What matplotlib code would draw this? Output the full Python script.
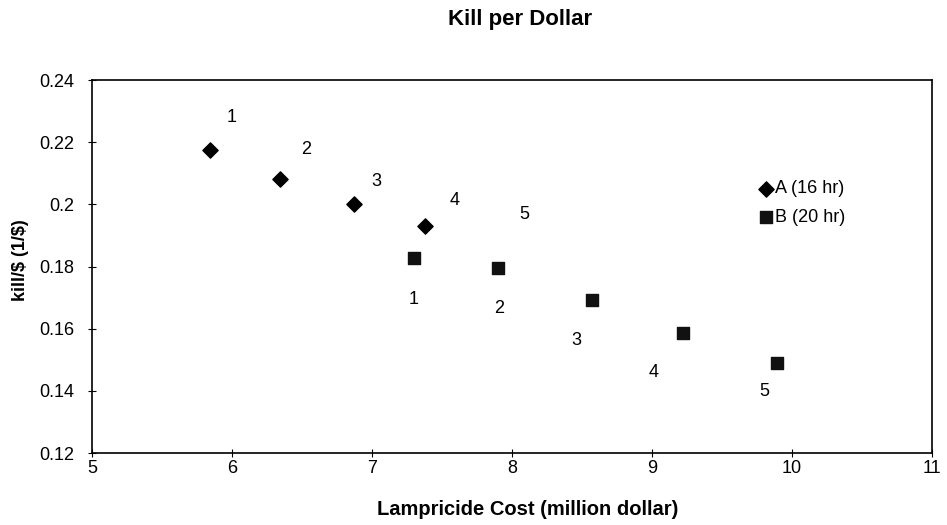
import matplotlib
matplotlib.use('Agg')
import matplotlib.pyplot as plt

plt.rcParams['font.family'] = ['Liberation Sans', 'DejaVu Sans']

# series A (16 hr)
a_cost = [5.84, 6.34, 6.87, 7.38]
a_kill = [0.2175, 0.208, 0.2, 0.193]
a_labels = ['1', '2', '3', '4', '5']
a_label_x = [6.0, 6.53, 7.03, 7.59, 8.09]
a_label_y = [0.228, 0.2175, 0.2073, 0.2012, 0.1968]

# series B (20 hr)
b_cost = [7.3, 7.9, 8.57, 9.22, 9.89]
b_kill = [0.1828, 0.1795, 0.1692, 0.1585, 0.1488]
b_labels = ['1', '2', '3', '4', '5']
b_label_x = [7.3, 7.91, 8.46, 9.01, 9.80]
b_label_y = [0.1694, 0.1665, 0.1563, 0.1458, 0.1397]

fig = plt.figure(figsize=(9.47, 5.25), dpi=100)
ax = fig.add_axes([0.0971, 0.1371, 0.8871, 0.7105])

ax.scatter(a_cost, a_kill, marker='D', s=60, color='black', label='A (16 hr)')
ax.scatter(b_cost, b_kill, marker='s', s=85, color='#111111', label='B (20 hr)')

for t, x, y in zip(a_labels, a_label_x, a_label_y):
    ax.text(x, y, t, ha='center', va='center', fontsize=13)
for t, x, y in zip(b_labels, b_label_x, b_label_y):
    ax.text(x, y, t, ha='center', va='center', fontsize=13)

ax.set_xlim(5, 11)
ax.set_ylim(0.12, 0.24)
ax.set_xticks(range(5, 12))
ax.set_yticks([0.12, 0.14, 0.16, 0.18, 0.2, 0.22, 0.24])
ax.set_yticklabels(['0.12', '0.14', '0.16', '0.18', '0.2', '0.22', '0.24'])
ax.tick_params(direction='inout', length=6, labelsize=13, width=0.8)
ax.tick_params(axis='x', pad=2)
ax.tick_params(axis='y', pad=10)
for s in ax.spines.values():
    s.set_linewidth(1.2)

fig.text(0.557, 0.029, 'Lampricide Cost (million dollar)', ha='center', va='center',
         fontsize=14.5, fontweight='bold')
fig.text(0.022, 0.505, 'kill/\\$ (1/\\$)', ha='center', va='center', rotation=90,
         fontsize=13, fontweight='bold')
fig.text(0.549, 0.962, 'Kill per Dollar', ha='center', va='center',
         fontsize=16, fontweight='bold')

ax.legend(loc='upper left', bbox_to_anchor=(0.776, 0.765), frameon=False,
          fontsize=13, handletextpad=0.0, handlelength=1.0, labelspacing=0.65,
          borderpad=0.2)

fig.savefig('out.png', dpi=100)
